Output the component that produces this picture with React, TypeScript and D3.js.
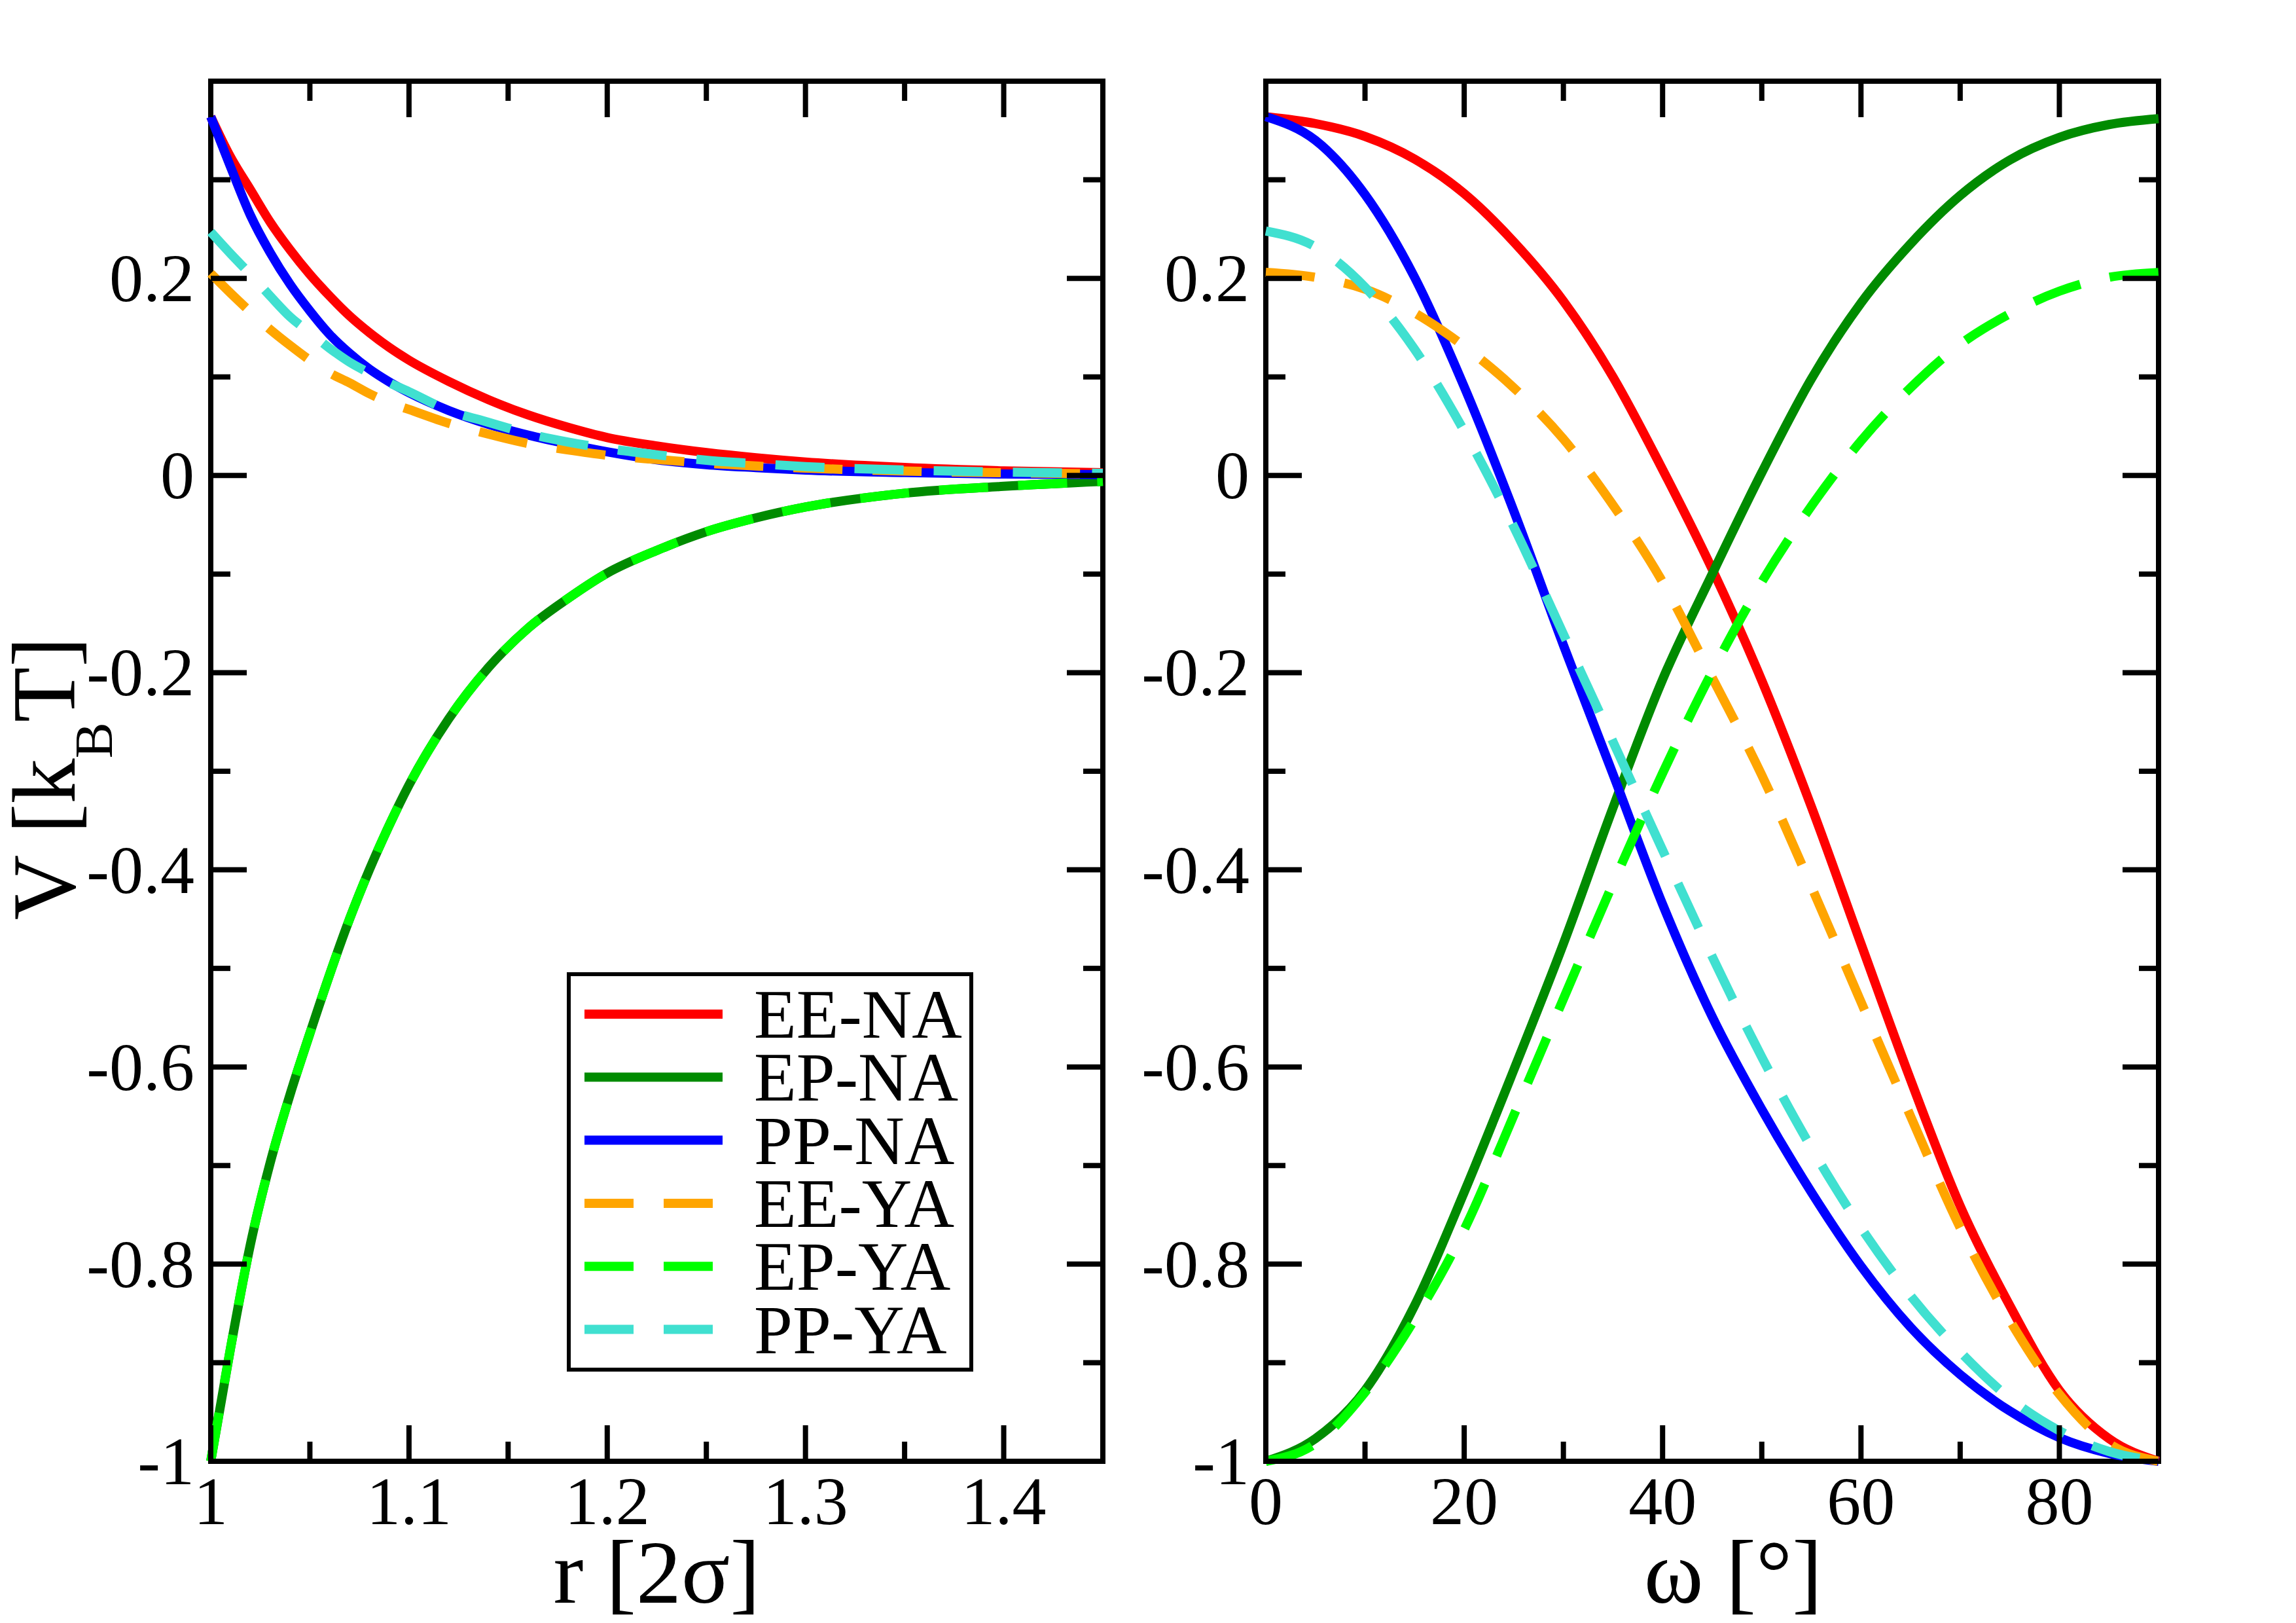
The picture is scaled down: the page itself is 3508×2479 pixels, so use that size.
import * as d3 from "d3";

// left panel: V against r [2σ]
const rValues = [1.0, 1.01, 1.02, 1.03, 1.04, 1.05, 1.06, 1.07, 1.08, 1.09, 1.1, 1.12, 1.14, 1.16, 1.18, 1.2, 1.225, 1.25, 1.275, 1.3, 1.35, 1.4, 1.45];
const eeNA_r = [0.364, 0.323, 0.29, 0.257, 0.229, 0.204, 0.182, 0.162, 0.145, 0.13, 0.117, 0.0955, 0.077, 0.0615, 0.049, 0.0385, 0.03, 0.0233, 0.018, 0.0137, 0.0081, 0.0047, 0.0028];
const epNA_r = [-1.0, -0.885, -0.78, -0.697, -0.628, -0.566, -0.506, -0.45, -0.4, -0.355, -0.314, -0.247, -0.195, -0.155, -0.125, -0.099, -0.076, -0.057, -0.043, -0.032, -0.018, -0.011, -0.006];
const ppNA_r = [0.364, 0.313, 0.264, 0.226, 0.194, 0.167, 0.143, 0.124, 0.108, 0.095, 0.084, 0.066, 0.052, 0.041, 0.032, 0.024, 0.016, 0.011, 0.008, 0.0055, 0.003, 0.0015, 0.0008];
const eeYA_r = [0.205, 0.185, 0.166, 0.148, 0.132, 0.117, 0.104, 0.094, 0.083, 0.074, 0.067, 0.053, 0.042, 0.0325, 0.026, 0.0205, 0.0162, 0.0125, 0.0096, 0.0075, 0.0045, 0.0028, 0.0017];
const epYA_r = [-1.0, -0.885, -0.78, -0.697, -0.628, -0.566, -0.506, -0.45, -0.4, -0.355, -0.314, -0.247, -0.195, -0.155, -0.125, -0.099, -0.076, -0.057, -0.043, -0.032, -0.018, -0.011, -0.006];
const ppYA_r = [0.247, 0.225, 0.204, 0.182, 0.161, 0.145, 0.129, 0.115, 0.104, 0.094, 0.085, 0.066, 0.054, 0.0425, 0.034, 0.0274, 0.021, 0.0155, 0.012, 0.009, 0.0055, 0.0035, 0.0022];

// right panel: V against ω [°]
const omegaValues = [0, 5, 10, 15, 20, 25, 30, 35, 40, 45, 50, 55, 60, 65, 70, 75, 80, 85, 90];
const eeNA_w = [0.364, 0.357, 0.344, 0.321, 0.286, 0.237, 0.177, 0.1, 0.006, -0.095, -0.208, -0.336, -0.475, -0.613, -0.741, -0.842, -0.928, -0.977, -1.0];
const epNA_w = [-1.0, -0.977, -0.928, -0.842, -0.727, -0.603, -0.475, -0.337, -0.207, -0.1, 0.003, 0.098, 0.175, 0.235, 0.284, 0.32, 0.343, 0.356, 0.362];
const ppNA_w = [0.364, 0.34, 0.285, 0.201, 0.09, -0.036, -0.172, -0.303, -0.435, -0.549, -0.643, -0.727, -0.802, -0.864, -0.912, -0.949, -0.976, -0.992, -1.0];
const eeYA_w = [0.206, 0.201, 0.189, 0.165, 0.131, 0.089, 0.037, -0.03, -0.108, -0.205, -0.304, -0.417, -0.534, -0.65, -0.763, -0.857, -0.932, -0.982, -1.0];
const epYA_w = [-1.0, -0.982, -0.93, -0.856, -0.765, -0.649, -0.531, -0.414, -0.302, -0.199, -0.108, -0.031, 0.035, 0.089, 0.133, 0.164, 0.187, 0.201, 0.206];
const ppYA_w = [0.248, 0.232, 0.191, 0.128, 0.045, -0.052, -0.161, -0.27, -0.38, -0.488, -0.59, -0.682, -0.763, -0.832, -0.889, -0.936, -0.969, -0.99, -1.0];

const seriesNames = ["EE-NA", "EP-NA", "PP-NA", "EE-YA", "EP-YA", "PP-YA"];
const seriesColors = ["#ff0000", "#008b00", "#0000ff", "#ffa500", "#00ff00", "#40e0d0"];
const seriesDashed = [false, false, false, true, true, true];

const yMajor = [-1, -0.8, -0.6, -0.4, -0.2, 0, 0.2, 0.4];
const yMinor = [-0.9, -0.7, -0.5, -0.3, -0.1, 0.1, 0.3];
const yLabelValues = [-1, -0.8, -0.6, -0.4, -0.2, 0, 0.2];
const yLabelText = ["-1", "-0.8", "-0.6", "-0.4", "-0.2", "0", "0.2"];

const rMajor = [1, 1.1, 1.2, 1.3, 1.4];
const rMinor = [1.05, 1.15, 1.25, 1.35];
const rLabelText = ["1", "1.1", "1.2", "1.3", "1.4"];

const wMajor = [0, 20, 40, 60, 80];
const wMinor = [10, 30, 50, 70];
const wLabelText = ["0", "20", "40", "60", "80"];

const W = 3508;
const H = 2479;
const TOP = 124;
const BOTTOM = 2232;
const FONT = "Liberation Serif, Times New Roman, Times, serif";
const LW = 14;
const DASH = "75 46";
const MAJOR = 55;
const MINOR = 30;

const y = d3.scaleLinear().domain([-1, 0.4]).range([BOTTOM, TOP]);

type PanelProps = {
  x0: number;
  x1: number;
  domain: [number, number];
  xs: number[];
  data: number[][];
  major: number[];
  minor: number[];
  labels: string[];
  xLabel: string;
  xLabelShift: number;
};

function Panel({ x0, x1, domain, xs, data, major, minor, labels, xLabel, xLabelShift }: PanelProps) {
  const x = d3.scaleLinear().domain(domain).range([x0, x1]);
  const line = d3
    .line<number>()
    .x((_, i) => x(xs[i]))
    .y((d) => y(d))
    .curve(d3.curveMonotoneX);

  const xTick = (v: number, len: number, key: string) => (
    <g key={key}>
      <line x1={x(v)} x2={x(v)} y1={BOTTOM} y2={BOTTOM - len} />
      <line x1={x(v)} x2={x(v)} y1={TOP} y2={TOP + len} />
    </g>
  );
  const yTick = (v: number, len: number, key: string) => (
    <g key={key}>
      <line x1={x0} x2={x0 + len} y1={y(v)} y2={y(v)} />
      <line x1={x1} x2={x1 - len} y1={y(v)} y2={y(v)} />
    </g>
  );

  return (
    <g>
      <rect x={x0} y={TOP} width={x1 - x0} height={BOTTOM - TOP} fill="none" stroke="#000" strokeWidth={8} />
      {data.map((vals, i) => (
        <path
          key={seriesNames[i]}
          d={line(vals) ?? ""}
          fill="none"
          stroke={seriesColors[i]}
          strokeWidth={LW}
          strokeDasharray={seriesDashed[i] ? DASH : undefined}
          strokeLinejoin="round"
        />
      ))}
      <g stroke="#000" strokeWidth={8}>
        {major.map((v) => xTick(v, MAJOR, `xM${v}`))}
        {minor.map((v) => xTick(v, MINOR, `xm${v}`))}
        {yMajor.map((v) => yTick(v, MAJOR, `yM${v}`))}
        {yMinor.map((v) => yTick(v, MINOR, `ym${v}`))}
      </g>
      <g style={{ fontFamily: FONT }} fontSize={104} fill="#000">
        {major.map((v, i) => (
          <text key={`xl${v}`} x={x(v)} y={2328} textAnchor="middle">
            {labels[i]}
          </text>
        ))}
        {yLabelValues.map((v, i) => (
          <text key={`yl${v}`} x={x0 - 25} y={y(v) + 35} textAnchor="end">
            {yLabelText[i]}
          </text>
        ))}
      </g>
      <text
        x={(x0 + x1) / 2 + xLabelShift}
        y={2448}
        textAnchor="middle"
        style={{ fontFamily: FONT }}
        fontSize={138}
      >
        {xLabel}
      </text>
    </g>
  );
}

export default function App() {
  const legendTop = 1549;
  const legendStep = 96.3;
  return (
    <div style={{ position: "absolute", left: 0, top: 0 }}>
      <svg width={W} height={H} viewBox={`0 0 ${W} ${H}`} style={{ display: "block", background: "#fff" }}>
        <rect x={0} y={0} width={W} height={H} fill="#fff" />
        <Panel
          x0={322}
          x1={1685}
          domain={[1, 1.45]}
          xs={rValues}
          data={[eeNA_r, epNA_r, ppNA_r, eeYA_r, epYA_r, ppYA_r]}
          major={rMajor}
          minor={rMinor}
          labels={rLabelText}
          xLabel="r [2σ]"
          xLabelShift={0}
        />
        <Panel
          x0={1934}
          x1={3298}
          domain={[0, 90]}
          xs={omegaValues}
          data={[eeNA_w, epNA_w, ppNA_w, eeYA_w, epYA_w, ppYA_w]}
          major={wMajor}
          minor={wMinor}
          labels={wLabelText}
          xLabel="ω [°]"
          xLabelShift={32}
        />
        <text transform="translate(114,1189) rotate(-90)" textAnchor="middle" style={{ fontFamily: FONT }} fontSize={138}>
          V [k
          <tspan fontSize={83} dy={57}>
            B
          </tspan>
          <tspan dy={-57}>T]</tspan>
        </text>
        <g>
          <rect x={869} y={1488} width={615} height={604} fill="#fff" stroke="#000" strokeWidth={6} />
          {seriesNames.map((name, i) => {
            const ly = legendTop + i * legendStep;
            return (
              <g key={name}>
                <line
                  x1={893}
                  x2={1104}
                  y1={ly}
                  y2={ly}
                  stroke={seriesColors[i]}
                  strokeWidth={LW}
                  strokeDasharray={seriesDashed[i] ? DASH : undefined}
                />
                <text x={1152} y={ly + 36} style={{ fontFamily: FONT }} fontSize={106}>
                  {name}
                </text>
              </g>
            );
          })}
        </g>
      </svg>
    </div>
  );
}
